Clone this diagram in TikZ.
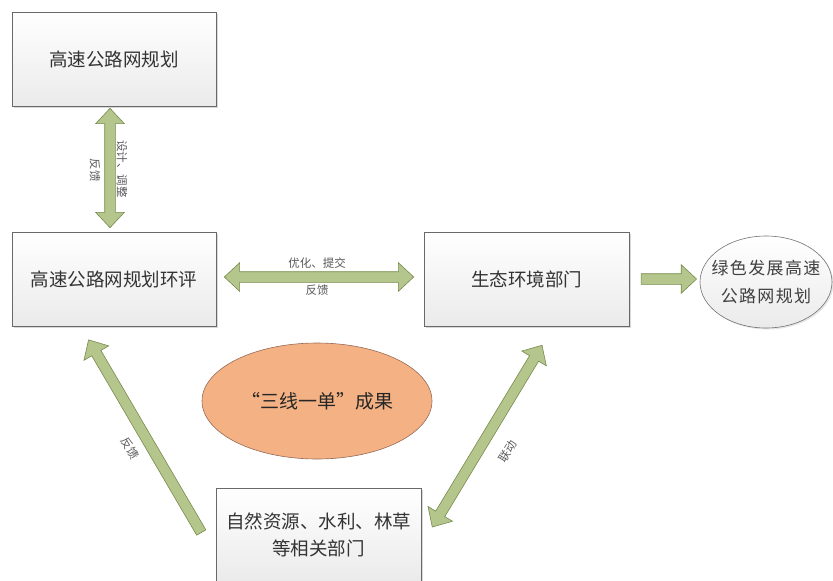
\documentclass[tikz,border=0pt]{standalone}
\usepackage{fontspec}
\newfontfamily\cjk{Noto Sans CJK SC}
\newfontfamily\cjkwide[LetterSpace=8]{Noto Sans CJK SC}
\usetikzlibrary{calc,shapes.geometric,shapes.arrows,shadows}

\definecolor{arrowgreen}{RGB}{181,198,140}
\definecolor{arrowedge}{RGB}{118,138,78}
\definecolor{boxedge}{RGB}{105,105,105}
\definecolor{peach}{RGB}{244,178,132}
\definecolor{peachedge}{RGB}{150,105,85}

\tikzset{
  planbox/.style={draw=boxedge, line width=0.6pt, top color=white, bottom color=black!8,
    minimum width=204, minimum height=94, align=center, text=black!80,
    font=\cjk\fontsize{18.5}{27}\selectfont,
    drop shadow={shadow xshift=2pt, shadow yshift=-2pt, fill=black!30}},
  fatarrow/.style={single arrow, draw=arrowedge, fill=arrowgreen, line width=0.6pt,
    inner xsep=0pt, inner ysep=5pt, single arrow head extend=9pt, single arrow tip angle=86},
  fatdouble/.style={double arrow, draw=arrowedge, fill=arrowgreen, line width=0.6pt,
    inner xsep=0pt, inner ysep=5pt, double arrow head extend=9pt, double arrow tip angle=86},
  lbl/.style={font=\cjk\fontsize{11.5}{13}\selectfont, text=black!65, inner sep=0pt}
}

% style, name, from, to
\newcommand\blockarrow[4]{%
  \path let \p1=($(#4)-(#3)$), \n1={atan2(\y1,\x1)}, \n2={veclen(\x1,\y1)} in
    node[#1, minimum height=\n2, rotate=\n1] (#2) at ($(#3)!0.5!(#4)$) {};}

\begin{document}
\begin{tikzpicture}[x=1pt, y=-1pt]
	%%%%% START %%%%%
	\useasboundingbox (0,0) rectangle (833,581);
	
	\node[planbox] (plan) at (114,59) {高速公路网规划};
	\node[planbox] (eia) at (114,279) {高速公路网规划环评};
	\node[planbox, minimum width=205] (eco) at (526.5,279) {生态环境部门};
	\node[planbox, minimum width=205] (dept) at (318.5,535) {自然资源、水利、林草\\等相关部门};
	
	\node[ellipse, draw=peachedge, fill=peach, line width=0.6pt, minimum width=230, minimum height=116,
		inner sep=0pt, text=black!85, font=\cjk\fontsize{19}{22}\selectfont] (result) at (317,401) {“三线一单”成果};
	\node[ellipse, draw=black!55, top color=white, bottom color=black!8, line width=0.6pt,
		minimum width=132, minimum height=92,
		drop shadow={shadow xshift=1.5pt, shadow yshift=-1.5pt, fill=black!20},
		label={[align=center, text=black!75, font=\cjkwide\fontsize{17}{28}\selectfont]center:绿色发展高速\\公路网规划}] (green) at (766,282) {};
	
	\coordinate (vA) at ($(plan.south)+(-4,2)$);
	\coordinate (vB) at ($(eia.north)+(-4,-4)$);
	\coordinate (hA) at ($(eia.east)+(8,-2)$);
	\coordinate (hB) at ($(eco.west)+(-10,-2)$);
	\coordinate (gA) at ($(eco.east)+(9,0)$);
	\coordinate (gB) at ($(green.west)+(-6,-3)$);
	\coordinate (lA) at ($(dept.west)+(-13,0)$);
	\coordinate (lB) at ($(eia.south)+(-24,16)$);
	\coordinate (rA) at ($(dept.east)+(11,-8)$);
	\coordinate (rB) at ($(eco.south)+(15.5,19)$);
	
	\blockarrow{fatdouble}{arrV}{vA}{vB}
	\blockarrow{fatdouble}{arrH}{hA}{hB}
	\blockarrow{fatarrow}{arrG}{gA}{gB}
	\blockarrow{fatarrow}{arrL}{lA}{lB}
	\blockarrow{fatdouble}{arrR}{rA}{rB}
	
	\node[lbl, rotate=-90] (lDesign) at ($(arrV)+(12,1)$) {设计、调整};
	\node[lbl, rotate=-90] (lBackV) at ($(arrV)+(-15,2)$) {反馈};
	\node[lbl] (lSubmit) at ($(arrH)+(-2,-14)$) {优化、提交};
	\node[lbl] (lBackH) at ($(arrH)+(-2,13)$) {反馈};
	\node[lbl, rotate=-60] (lBackL) at ($(arrL)+(-16,10)$) {反馈};
	\node[lbl, rotate=59] (lLink) at ($(arrR)+(20.5,15.5)$) {联动};
	%%%%% END %%%%%
\end{tikzpicture}
\end{document}
